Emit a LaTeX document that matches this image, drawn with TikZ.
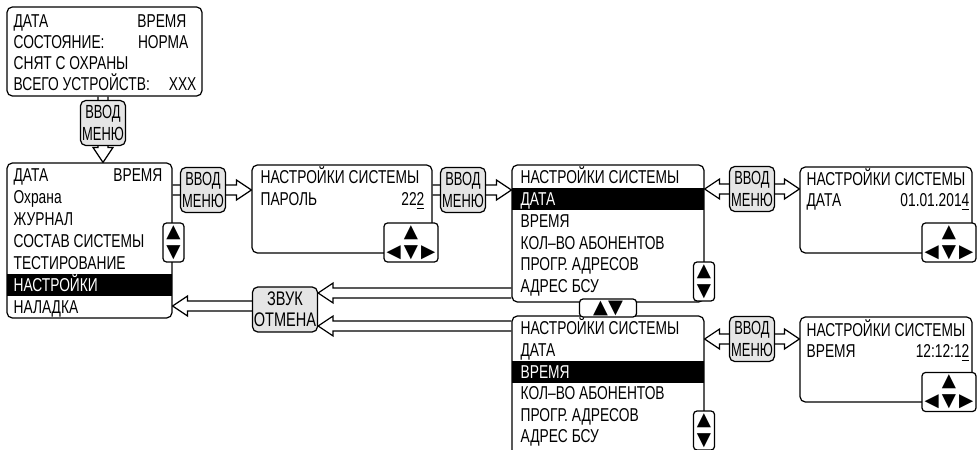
\documentclass[tikz,border=0pt]{standalone}
\usepackage{fontspec}
\setmainfont{Liberation Sans}[FakeStretch=0.74]
\newfontfamily\keyfont{Liberation Sans}[FakeStretch=0.68]
\newfontfamily\symfont{DejaVu Sans}
\usepackage{tikz}
\usetikzlibrary{calc,backgrounds}
\definecolor{keygray}{gray}{0.9}

% hollow double-line arrows (start, tip)
\newcommand{\harrowR}[2]{%
  \draw[hollow] let \p1=(#1), \p2=(#2) in
    (\x1,\y1+1mm) -- (\x2-3mm,\y1+1mm) -- (\x2-3mm,\y1+2mm) -- (\x2,\y1)
    -- (\x2-3mm,\y1-2mm) -- (\x2-3mm,\y1-1mm) -- (\x1,\y1-1mm);}
\newcommand{\harrowL}[2]{%
  \draw[hollow] let \p1=(#1), \p2=(#2) in
    (\x1,\y1+1mm) -- (\x2+3mm,\y1+1mm) -- (\x2+3mm,\y1+2mm) -- (\x2,\y1)
    -- (\x2+3mm,\y1-2mm) -- (\x2+3mm,\y1-1mm) -- (\x1,\y1-1mm);}
\newcommand{\harrowLR}[2]{%
  \draw[hollow] let \p1=(#1), \p2=(#2) in
    (\x1,\y1) -- (\x1+3mm,\y1+2mm) -- (\x1+3mm,\y1+1mm) -- (\x2-3mm,\y1+1mm)
    -- (\x2-3mm,\y1+2mm) -- (\x2,\y1) -- (\x2-3mm,\y1-2mm) -- (\x2-3mm,\y1-1mm)
    -- (\x1+3mm,\y1-1mm) -- (\x1+3mm,\y1-2mm) -- cycle;}
\newcommand{\varrowD}[2]{%
  \draw[hollow] let \p1=(#1), \p2=(#2) in
    (\x1-1mm,\y1) -- (\x1-1mm,\y2+3mm) -- (\x1-2mm,\y2+3mm) -- (\x1,\y2)
    -- (\x1+2mm,\y2+3mm) -- (\x1+1mm,\y2+3mm) -- (\x1+1mm,\y1);}

\begin{document}
\begin{tikzpicture}[
    x=0.02cm, y=-0.02cm,
    line width=0.7pt,
    font=\fontsize{10.6pt}{12pt}\selectfont,
    screen/.style={draw,rounded corners=3pt,fill=white,inner sep=0pt},
    key/.style={draw,rounded corners=3pt,fill=keygray,align=center,inner sep=0pt,
        minimum width=0.9cm,minimum height=0.9cm,font=\keyfont\fontsize{10.8pt}{12pt}\selectfont},
    updown/.style={draw,rounded corners=2pt,fill=white,align=center,inner sep=0pt,
        minimum width=0.42cm,minimum height=0.78cm,font=\symfont\fontsize{10.5pt}{11.5pt}\selectfont},
    pad/.style={draw,rounded corners=2pt,fill=white,align=center,inner sep=0pt,
        minimum width=1.08cm,minimum height=0.78cm,font=\symfont\fontsize{10.5pt}{11.5pt}\selectfont},
    page/.style={draw,rounded corners=2pt,fill=white,inner sep=0pt,
        minimum width=1.14cm,minimum height=0.36cm,font=\symfont\fontsize{11pt}{11pt}\selectfont},
    txt/.style={anchor=base west,inner sep=0pt,yshift=-3.8pt},
    rtxt/.style={anchor=base east,inner sep=0pt,yshift=-3.8pt},
    sel/.style={txt,text=white},
    hollow/.style={line width=0.7pt,line join=miter}
]
\useasboundingbox (0,0) rectangle (979,449);
\clip (0,0) rectangle (979,449);

% status screen
\node[screen,minimum width=3.9cm,minimum height=1.78cm] (S) at (104.5,51.5) {};
\node[txt] (S1) at (13,21) {ДАТА};
\node[rtxt] (S1r) at (187,21) {ВРЕМЯ};
\node[txt] (S2) at (13,42) {СОСТОЯНИЕ:};
\node[rtxt] (S2r) at (189,42) {НОРМА};
\node[txt] (S3) at (13,63) {СНЯТ С ОХРАНЫ};
\node[txt] (S4) at (13,84) {ВСЕГО УСТРОЙСТВ:};
\node[rtxt] (S4r) at (197,84) {XXX};
\node[key] (K0) at (103,123) {ВВОД\\МЕНЮ};

% main menu
\node[screen,minimum width=3.3cm,minimum height=3.1cm] (M) at (89.5,240.5) {};
\fill (7,274) rectangle (172,296);
\node[txt] (M1) at (13,175) {ДАТА};
\node[rtxt] (M1r) at (163,175) {ВРЕМЯ};
\node[txt] (M2) at (13,197) {Охрана};
\node[txt] (M3) at (13,219) {ЖУРНАЛ};
\node[txt] (M4) at (13,241) {СОСТАВ СИСТЕМЫ};
\node[txt] (M5) at (13,263) {ТЕСТИРОВАНИЕ};
\node[sel] (M6) at (13,285) {НАСТРОЙКИ};
\node[txt] (M7) at (13,307) {НАЛАДКА};
\node[updown] (SB1) at (173.5,242.5) {▲\\▼};
\node[key] (K1) at (203,190) {ВВОД\\МЕНЮ};

% password
\node[screen,minimum width=3.6cm,minimum height=1.76cm] (P) at (342,209) {};
\node[txt] (P1) at (260,177) {НАСТРОЙКИ СИСТЕМЫ};
\node[txt] (P2) at (260,199) {ПАРОЛЬ};
\node[rtxt] (P2r) at (425,199) {22\underline{2}};
\node[pad] (PadP) at (411,242.5) {▲\\◀\,▼\,▶};
\node[key] (K2) at (463,190) {ВВОД\\МЕНЮ};

% settings list, page 1
\node[screen,minimum width=3.84cm,minimum height=2.74cm] (B3) at (608,233.5) {};
\fill (512,188) rectangle (704,210);
\node[txt] (B31) at (520,177) {НАСТРОЙКИ СИСТЕМЫ};
\node[sel] (B32) at (520,199) {ДАТА};
\node[txt] (B33) at (520,221) {ВРЕМЯ};
\node[txt] (B34) at (520,243) {КОЛ--ВО АБОНЕНТОВ};
\node[txt] (B35) at (520,264) {ПРОГР. АДРЕСОВ};
\node[txt] (B36) at (520,286) {АДРЕС БСУ};
\node[updown] (SB3) at (704,281.5) {▲\\▼};
\node[key] (K3) at (752,189) {ВВОД\\МЕНЮ};

% date
\node[screen,minimum width=3.44cm,minimum height=1.72cm] (B5) at (886,210) {};
\node[txt] (B51) at (806,179) {НАСТРОЙКИ СИСТЕМЫ};
\node[txt] (B52) at (806,200) {ДАТА};
\node[rtxt] (B52r) at (970,200) {01.01.201\underline{4}};
\node[pad] (PadB5) at (949,242.5) {▲\\◀\,▼\,▶};

% settings list, page 2
\node[screen,minimum width=3.84cm,minimum height=3.08cm] (B4) at (608,393) {};
\fill (512,361) rectangle (704,383);
\node[txt] (B41) at (520,328) {НАСТРОЙКИ СИСТЕМЫ};
\node[txt] (B42) at (520,350) {ДАТА};
\node[sel] (B43) at (520,372) {ВРЕМЯ};
\node[txt] (B44) at (520,393) {КОЛ--ВО АБОНЕНТОВ};
\node[txt] (B45) at (520,415) {ПРОГР. АДРЕСОВ};
\node[txt] (B46) at (520,436) {АДРЕС БСУ};
\node[updown] (SB4) at (704,430.5) {▲\\▼};
\node[page] (PG) at (608,308) {▲▼};
\node[key] (K4) at (752,339) {ВВОД\\МЕНЮ};

% time
\node[screen,minimum width=3.44cm,minimum height=1.7cm] (B6) at (886,359.5) {};
\node[txt] (B61) at (806,330) {НАСТРОЙКИ СИСТЕМЫ};
\node[txt] (B62) at (806,351) {ВРЕМЯ};
\node[rtxt] (B62r) at (970,351) {12:12:1\underline{2}};
\node[pad] (PadB6) at (949,392) {▲\\◀\,▼\,▶};

% sound / cancel
\node[key,minimum width=1.3cm,minimum height=0.9cm,font=\fontsize{11.2pt}{12pt}\selectfont] (K6) at (285,309.5) {ЗВУК\\ОТМЕНА};
\coordinate (z1) at (400,293);
\coordinate (z2) at (400,326);
\coordinate (z3) at (210,306);

\begin{scope}[on background layer]
\varrowD{S.south -| K0.center}{M.north -| K0.center}
\harrowR{M.east |- K1.center}{P.west |- K1.center}
\harrowR{P.east |- K2.center}{B3.west |- K2.center}
\harrowLR{B3.east |- K3.center}{B5.west |- K3.center}
\harrowLR{B4.east |- K4.center}{B6.west |- K4.center}
\harrowL{B3.west |- z1}{K6.east |- z1}
\harrowL{B4.west |- z2}{K6.east |- z2}
\harrowL{K6.west |- z3}{M.east |- z3}
\end{scope}
\end{tikzpicture}
\end{document}
